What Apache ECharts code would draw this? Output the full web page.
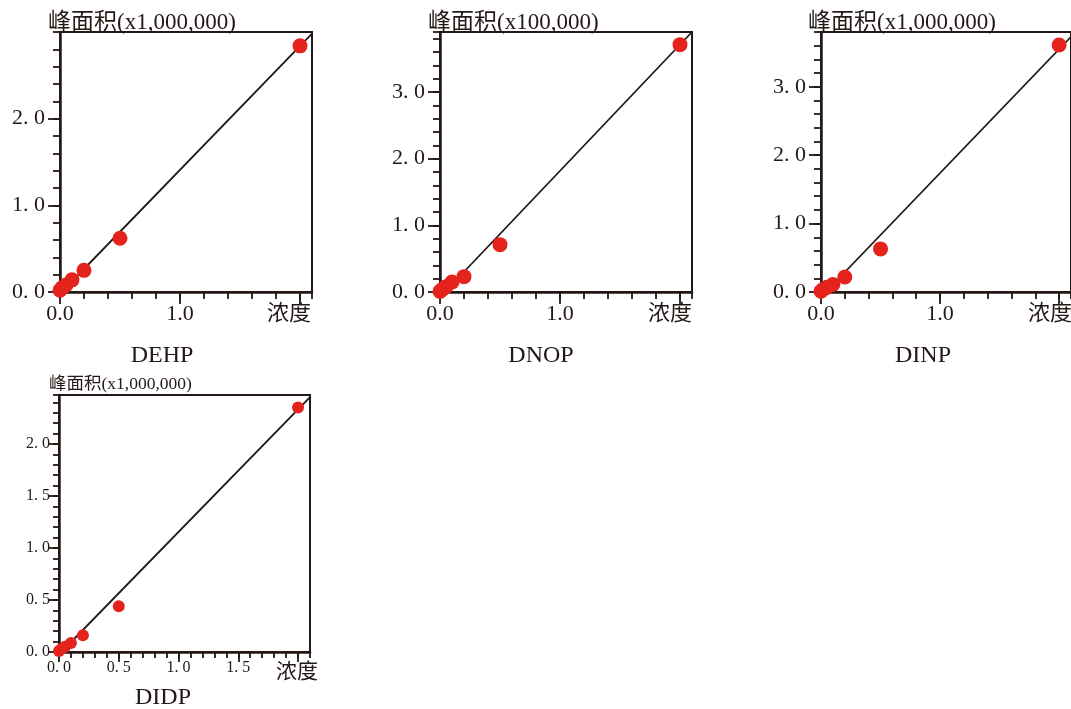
<!DOCTYPE html>
<html>
<head>
<meta charset="utf-8">
<script src="https://cdn.jsdelivr.net/npm/echarts@6/dist/echarts.min.js"></script>
<style>
html,body{margin:0;padding:0;background:#fff;}
#chart{width:1071px;height:709px;}
</style>
</head>
<body>
<div id="chart"></div>
<script>
// ---- data ----
const CONC = [0, 0.02, 0.05, 0.1, 0.2, 0.5, 2.0];
const DEHP_AREA = [0.02, 0.05, 0.08, 0.14, 0.25, 0.62, 2.84];
const DNOP_AREA = [0.01, 0.04, 0.08, 0.15, 0.23, 0.71, 3.71];
const DINP_AREA = [0.01, 0.04, 0.07, 0.11, 0.22, 0.63, 3.61];
const DIDP_AREA = [0.01, 0.03, 0.05, 0.087, 0.16, 0.44, 2.35];

const DEHP_FIT_X = [0.014, 2.1];
const DEHP_FIT_Y = [0, 2.98];
const DNOP_FIT_X = [0.04, 2.1];
const DNOP_FIT_Y = [0, 3.9];
const DINP_FIT_X = [0.04, 2.1];
const DINP_FIT_Y = [0, 3.73];
const DIDP_FIT_X = [0.02, 2.1];
const DIDP_FIT_Y = [0, 2.45];

const CHART_NAMES = ['DEHP', 'DNOP', 'DINP', 'DIDP'];
const Y_NAMES = ['峰面积(x1,000,000)', '峰面积(x100,000)', '峰面积(x1,000,000)', '峰面积(x1,000,000)'];
const X_NAME = '浓度';
const X_MAX = [2.1, 2.1, 2.1, 2.1];
const Y_MAX = [3.0, 3.9, 3.8, 2.47];
const X_MAJOR = [[0, 1, 2], [0, 1, 2], [0, 1, 2], [0, 0.5, 1, 1.5, 2]];
const Y_MAJOR = [[0, 1, 2], [0, 1, 2, 3], [0, 1, 2, 3], [0, 0.5, 1, 1.5, 2]];
const X_LABELS = [[0, 1], [0, 1], [0, 1], [0, 0.5, 1, 1.5]];
const Y_LABELS = [[0, 1, 2], [0, 1, 2, 3], [0, 1, 2, 3], [0, 0.5, 1, 1.5, 2]];

// ---- styling / layout ----
const INK = '#231815';
const RED = '#e5231d';
const SERIF = "'Liberation Serif','Times New Roman',serif";
const MIXED = "'Liberation Serif','Noto Sans CJK SC',sans-serif";

const grids = [
  {left: 60, top: 32, width: 252, height: 260},
  {left: 440, top: 32, width: 252, height: 260},
  {left: 821, top: 32, width: 252, height: 260},
  {left: 59, top: 395, width: 251, height: 257}
];
const small = [false, false, false, true];

const areas = [DEHP_AREA, DNOP_AREA, DINP_AREA, DIDP_AREA];
const fitsX = [DEHP_FIT_X, DNOP_FIT_X, DINP_FIT_X, DIDP_FIT_X];
const fitsY = [DEHP_FIT_Y, DNOP_FIT_Y, DINP_FIT_Y, DIDP_FIT_Y];

function fmt(v, spaced) {
  const s = v.toFixed(1);
  return spaced ? s.replace('.', '. ') : s;
}

const xAxes = [], yAxes = [], series = [], graphics = [];
// main axes (minor ticks + labels)
grids.forEach((g, i) => {
  const sm = small[i];
  xAxes.push({
    type: 'value', gridIndex: i, position: 'bottom', min: 0, max: X_MAX[i],
    interval: sm ? 0.1 : 0.2,
    splitLine: {show: false},
    axisLine: {show: true, onZero: false, lineStyle: {color: INK, width: 2.5}},
    axisTick: {show: true, inside: false, length: sm ? 6 : 7, lineStyle: {color: INK, width: 1.8}},
    axisLabel: {
      show: true, margin: sm ? 8 : 11, color: INK, fontFamily: SERIF, fontSize: sm ? 16 : 22,
      customValues: X_LABELS[i],
      formatter: v => fmt(v, sm)
    }
  });
  yAxes.push({
    type: 'value', gridIndex: i, position: 'left', min: 0, max: Y_MAX[i],
    interval: sm ? 0.1 : 0.2,
    splitLine: {show: false},
    axisLine: {show: true, onZero: false, lineStyle: {color: INK, width: 2.5}},
    axisTick: {show: true, inside: false, length: sm ? 6 : 7, lineStyle: {color: INK, width: 1.8}},
    axisLabel: {
      show: true, margin: sm ? 9 : 15, color: INK, fontFamily: SERIF, fontSize: sm ? 16 : 22,
      customValues: Y_LABELS[i],
      formatter: v => fmt(v, true)
    }
  });
});
// overlay axes (long major ticks only)
grids.forEach((g, i) => {
  const sm = small[i];
  xAxes.push({
    type: 'value', gridIndex: i, position: 'bottom', offset: 0, min: 0, max: X_MAX[i],
    splitLine: {show: false}, axisLine: {show: false}, axisLabel: {show: false},
    axisTick: {show: true, inside: false, length: sm ? 10 : 12, customValues: X_MAJOR[i],
      lineStyle: {color: INK, width: 1.8}}
  });
  yAxes.push({
    type: 'value', gridIndex: i, position: 'left', offset: 0, min: 0, max: Y_MAX[i],
    splitLine: {show: false}, axisLine: {show: false}, axisLabel: {show: false},
    axisTick: {show: true, inside: false, length: sm ? 10 : 12, customValues: Y_MAJOR[i],
      lineStyle: {color: INK, width: 1.8}}
  });
});
grids.forEach((g, i) => {
  const sm = small[i];
  series.push({
    type: 'line', xAxisIndex: i, yAxisIndex: i,
    data: fitsX[i].map((x, k) => [x, fitsY[i][k]]),
    showSymbol: false, symbol: 'none', silent: true, z: 2,
    lineStyle: {color: INK, width: 1.8}
  });
  series.push({
    type: 'scatter', xAxisIndex: i, yAxisIndex: i,
    data: CONC.map((c, k) => [c, areas[i][k]]),
    symbolSize: sm ? 12 : 15, clip: false, z: 3,
    itemStyle: {color: RED, opacity: 1}
  });
});

function txt(x, y, text, font, align, valign) {
  return {
    type: 'text', x: x, y: y, z: 10,
    style: {text: text, font: font, fill: INK,
      align: align, textAlign: align, verticalAlign: valign, textVerticalAlign: valign}
  };
}
// y-axis unit names
graphics.push(txt(48, 23, Y_NAMES[0], '23px ' + MIXED, 'left', 'middle'));
graphics.push(txt(428, 23, Y_NAMES[1], '23px ' + MIXED, 'left', 'middle'));
graphics.push(txt(808, 23, Y_NAMES[2], '23px ' + MIXED, 'left', 'middle'));
graphics.push(txt(49, 384, Y_NAMES[3], '17.5px ' + MIXED, 'left', 'middle'));
// x-axis names
graphics.push(txt(289, 314, X_NAME, '22px ' + MIXED, 'center', 'middle'));
graphics.push(txt(670, 314, X_NAME, '22px ' + MIXED, 'center', 'middle'));
graphics.push(txt(1050, 314, X_NAME, '22px ' + MIXED, 'center', 'middle'));
graphics.push(txt(297, 672, X_NAME, '21px ' + MIXED, 'center', 'middle'));
// chart titles
graphics.push(txt(162, 356, CHART_NAMES[0], '24px ' + SERIF, 'center', 'middle'));
graphics.push(txt(541, 356, CHART_NAMES[1], '24px ' + SERIF, 'center', 'middle'));
graphics.push(txt(923, 356, CHART_NAMES[2], '24px ' + SERIF, 'center', 'middle'));
graphics.push(txt(163, 698, CHART_NAMES[3], '24px ' + SERIF, 'center', 'middle'));

const chart = echarts.init(document.getElementById('chart'), null, {renderer: 'canvas'});
chart.setOption({
  animation: false,
  backgroundColor: '#fff',
  grid: grids.map(g => Object.assign({show: true, borderColor: INK, borderWidth: 2, backgroundColor: 'transparent'}, g)),
  xAxis: xAxes,
  yAxis: yAxes,
  series: series,
  graphic: {elements: graphics}
});
</script>
</body>
</html>
